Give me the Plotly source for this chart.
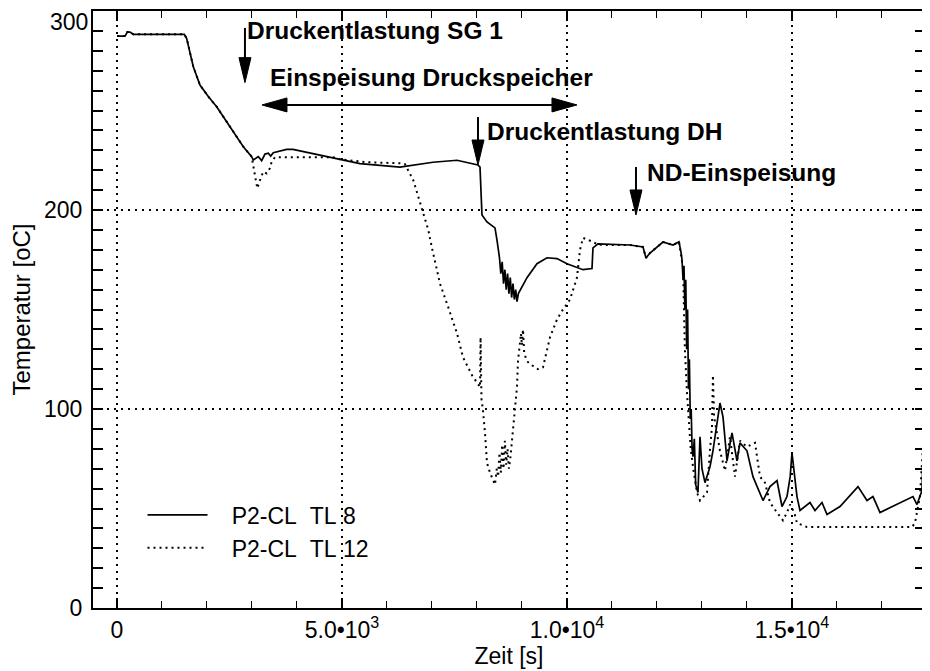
import plotly.graph_objects as go

# ---- data ----
time_tl8 = [0, 178, 230, 289, 363, 1496, 1549, 1696, 1844, 2029, 2215, 2437, 2585, 2807, 2993,
            3030, 3141, 3215, 3289, 3363, 3415, 3474, 3770, 3911, 4511, 4956, 5400, 6289, 7022,
            7556, 8022, 8067, 8111, 8222, 8400, 8444, 8500, 8530, 8560, 8590, 8620, 8650, 8680,
            8710, 8740, 8770, 8800, 8830, 8860, 8889, 8920, 9111, 9333, 9556, 9778, 10000, 10222,
            10356, 10556, 10578, 10689, 11400, 11689, 11756, 11844, 12133, 12356, 12489, 12540,
            12556, 12580, 12600, 12620, 12640, 12660, 12680, 12700, 12720, 12740, 12760, 12780,
            12800, 12830, 12860, 12911, 12956, 13000, 13067, 13178, 13244, 13400, 13467, 13556,
            13667, 13778, 13844, 14000, 14133, 14356, 14511, 14667, 14778, 14889, 14960, 15000,
            15040, 15067, 15111, 15178, 15400, 15511, 15667, 15778, 16067, 16467, 16667, 16800,
            16956, 17689, 17778, 17889, 17950]
temp_tl8 = [287.4, 287.4, 289.4, 289.4, 288.3, 288.3, 286.2, 272.0, 262.8, 257.0, 251.9, 244.4,
            239.4, 231.8, 226.8, 225.1, 226.8, 224.8, 228.1, 228.5, 227.1, 228.8, 230.5, 230.5,
            227.6, 225.5, 223.3, 221.5, 224.0, 225.0, 222.6, 221.5, 197.5, 194.0, 191.0, 185.0,
            176, 168, 174, 163, 170, 160, 168, 158, 166, 156, 163, 155, 160, 154, 158, 166, 173,
            176, 175.6, 173, 171, 170, 170.6, 181, 183, 182.4, 181.4, 175.9, 178.4, 183.9, 182.4,
            184, 178, 175, 165, 172, 150, 165, 130, 150, 110, 125, 95, 100, 80, 76, 85, 62, 58,
            86, 70, 63, 71, 79, 103, 96, 74, 88, 74, 83, 79, 66, 54, 61, 64, 51, 56, 66, 78, 70,
            63, 56, 49, 53, 49, 53, 47, 51, 61, 54, 56, 48, 56, 52, 59, 104]

time_tl12 = [0, 178, 230, 289, 363, 1496, 1549, 1696, 1844, 2029, 2215, 2437, 2585, 2807, 2993,
             3022, 3067, 3118, 3178, 3251, 3327, 3400, 3438, 3511, 4800, 4956, 5549, 6289, 6400,
             6584, 6696, 6807, 6918, 6993, 7178, 7333, 7444, 7556, 7689, 7889, 8067, 8080, 8100,
             8133, 8178, 8222, 8289, 8400, 8440, 8470, 8500, 8530, 8560, 8590, 8620, 8650, 8680,
             8710, 8740, 8780, 8800, 8844, 8889, 8911, 8950, 8978, 9000, 9022, 9050, 9111, 9222,
             9356, 9467, 9556, 9622, 9778, 9911, 10067, 10222, 10289, 10356, 10578, 10689, 11400,
             11689, 11756, 11844, 12133, 12356, 12489, 12540, 12578, 12600, 12622, 12667, 12700,
             12750, 12800, 12889, 12956, 13111, 13180, 13222, 13244, 13270, 13400, 13511, 13622,
             13733, 13844, 14000, 14178, 14289, 14400, 14511, 14667, 14800, 14889, 14956, 15050,
             15111, 15333, 17667, 17733, 17844, 17950]
temp_tl12 = [287.4, 287.4, 289.4, 289.4, 288.3, 288.3, 286.2, 272.0, 262.8, 257.0, 251.9, 244.4,
             239.4, 231.8, 226.8, 222.6, 217.6, 210.9, 215.0, 219.3, 218.4, 221.0, 224.3, 226.5,
             226.5, 225.5, 224.0, 223.5, 223.0, 215.0, 206.7, 198.3, 190.0, 181.6, 163, 153, 146,
             138, 126, 117, 111, 136, 105, 99.5, 88, 73, 68, 62, 70, 66, 78, 68, 82, 70, 84, 72,
             80, 70, 75, 85, 90, 99, 111, 124, 132, 138, 132, 140, 128, 124, 122, 120, 121, 130,
             136, 145, 150, 155, 166, 180, 186, 184, 182.5, 182.4, 181.4, 175.9, 178.4, 183.9,
             182.4, 184, 176, 171, 150, 129, 108, 95, 80, 71, 58, 54, 58, 80, 91, 117, 96, 79,
             69, 86, 66, 84, 81, 83, 66, 63, 53, 48, 44, 48, 52, 48, 42.7, 40.7, 40.7, 42.7, 56,
             96]

series_names = ["\u00a0\u00a0\u00a0P2-CL\u00a0\u00a0TL\u00a08",
                "\u00a0\u00a0\u00a0P2-CL\u00a0\u00a0TL\u00a012"]

x_tickvals = [0, 5000, 10000, 15000]
x_ticktext = ["0", "5.0\u202210<sup>3</sup>", "1.0\u202210<sup>4</sup>", "1.5\u202210<sup>4</sup>"]
x_minor_vals = [v for v in range(0, 18001, 1000) if v not in x_tickvals]
y_tickvals = [0, 100, 200, 300]
y_ticktext = ["0", "100", "200", "300"]
y_minor_vals = [v for v in range(10, 300, 10) if v not in y_tickvals]

FONT = "Liberation Sans, Arial, Helvetica, sans-serif"

fig = go.Figure()
fig.add_trace(go.Scatter(x=time_tl12, y=temp_tl12, mode="lines", name=series_names[1],
                         line=dict(color="black", width=2, dash="2px,4px")))
fig.add_trace(go.Scatter(x=time_tl8, y=temp_tl8, mode="lines", name=series_names[0],
                         line=dict(color="black", width=1.7)))

# ---- annotations: event markers ----
def down_arrow(x, y_tip, y_tail):
    fig.add_shape(type="line", x0=x, x1=x, y0=y_tail, y1=y_tip + 5,
                  line=dict(color="black", width=2))
    fig.add_shape(type="path", xref="x", yref="y", xsizemode="pixel", ysizemode="pixel",
                  xanchor=x, yanchor=y_tip, path="M0,0 L-6,25 L6,25 Z",
                  fillcolor="black", line=dict(color="black", width=1))

down_arrow(2844, 264, 291.5)
down_arrow(8022, 222.6, 246.7)
down_arrow(11533, 197.5, 221.6)

# double arrow (Einspeisung Druckspeicher)
fig.add_shape(type="line", x0=3400, x1=10050, y0=252.8, y1=252.8,
              line=dict(color="black", width=2))
fig.add_shape(type="path", xref="x", yref="y", xsizemode="pixel", ysizemode="pixel",
              xanchor=3222, yanchor=252.8, path="M0,0 L25,-7 L25,7 Z",
              fillcolor="black", line=dict(color="black", width=1))
fig.add_shape(type="path", xref="x", yref="y", xsizemode="pixel", ysizemode="pixel",
              xanchor=10222, yanchor=252.8, path="M0,0 L-25,-7 L-25,7 Z",
              fillcolor="black", line=dict(color="black", width=1))

labels = [("Druckentlastung SG 1", 2844, 290.0),
          ("Einspeisung Druckspeicher", 3356, 266.8),
          ("Druckentlastung DH", 8178, 239.7),
          ("ND-Einspeisung", 11733, 218.6)]
for txt, x, y in labels:
    fig.add_annotation(x=x, y=y, text="<b>" + txt + "</b>", showarrow=False,
                       xanchor="left", yanchor="middle",
                       font=dict(family=FONT, size=24.5, color="black"))

# the top y label sits a little below its tick in the original
fig.add_annotation(x=0, xref="paper", xanchor="right", xshift=-4,
                   y=y_tickvals[-1], yref="y", yanchor="top", yshift=3, borderpad=0,
                   text=y_ticktext[-1], showarrow=False,
                   font=dict(family=FONT, size=23, color="black"))
y_axis_text = y_ticktext[:-1] + [""]

axis_common = dict(showline=True, linecolor="black", linewidth=2, mirror="allticks",
                   ticks="inside", ticklen=10, tickwidth=1.5, tickcolor="black",
                   showgrid=True, gridcolor="black", gridwidth=1.5, griddash="2px,5px",
                   zeroline=False, automargin=False,
                   tickfont=dict(family=FONT, size=23, color="black"))

fig.update_xaxes(range=[-533, 17956], tickmode="array", tickvals=x_tickvals, ticktext=x_ticktext,
                 ticklabelstandoff=0,
                 minor=dict(tickmode="array", tickvals=x_minor_vals, ticks="inside", ticklen=7,
                            tickwidth=1.2, tickcolor="black", showgrid=False),
                 title=dict(text="Zeit [s]", font=dict(family=FONT, size=23, color="black"),
                            standoff=0),
                 **axis_common)
fig.update_yaxes(range=[0, 300], tickmode="array", tickvals=y_tickvals, ticktext=y_axis_text,
                 ticklabelstandoff=4,
                 minor=dict(tickmode="array", tickvals=y_minor_vals, ticks="inside", ticklen=10,
                            tickwidth=1.5, tickcolor="black", showgrid=False),
                 title=dict(text="Temperatur [oC]", font=dict(family=FONT, size=24, color="black"),
                            standoff=14),
                 **axis_common)

# the page body has an 8px margin, so the figure is 8px smaller than the window
fig.update_layout(
    width=922, height=663,
    margin=dict(l=85, r=5, t=3, b=63, autoexpand=False),
    paper_bgcolor="white", plot_bgcolor="white",
    showlegend=True,
    legend=dict(x=0.0595, y=0.192, xanchor="left", yanchor="top",
                bgcolor="rgba(0,0,0,0)", borderwidth=0, itemwidth=60,
                traceorder="reversed", tracegroupgap=0,
                font=dict(family=FONT, size=23, color="black")),
    font=dict(family=FONT, color="black"),
)

fig.write_html("out.html")
